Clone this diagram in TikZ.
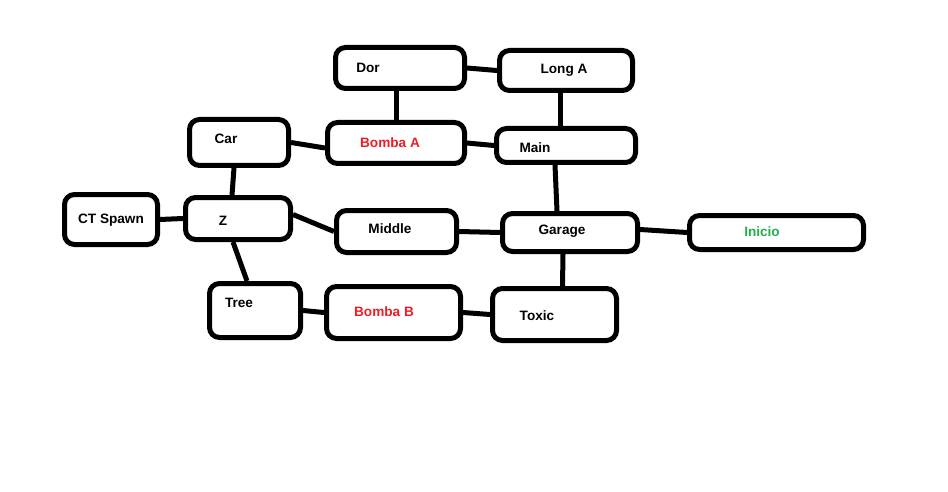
\documentclass[tikz,border=0pt]{standalone}
\usepackage{fontspec}
\setmainfont{Liberation Sans}
\usepackage{xcolor}
\usetikzlibrary{positioning}
\definecolor{rojo}{RGB}{237,28,36}
\definecolor{verde}{RGB}{34,177,76}

\begin{document}
\begin{tikzpicture}[x=1pt, y=-1pt,
    caja/.style={draw, line width=5pt, rounded corners=10pt, inner sep=0pt},
    txt/.style={font=\fontsize{13.6}{15}\selectfont\bfseries, inner sep=0pt, text height=9.8pt, text depth=0pt},
    via/.style={line width=5pt}]
	\useasboundingbox (0,0) rectangle (948,492);

	% cajas
	\node[caja, minimum width=129pt, minimum height=41pt] (dor) at (400,68) {};
	\node[caja, minimum width=133pt, minimum height=40pt] (longa) at (566,70.5) {};
	\node[caja, minimum width=99pt, minimum height=46pt] (car) at (239,142.5) {};
	\node[caja, minimum width=137pt, minimum height=41pt] (bombaa) at (396,143) {};
	\node[caja, minimum width=139pt, minimum height=34pt] (main) at (566,145.5) {};
	\node[caja, minimum width=93pt, minimum height=50pt] (ct) at (111,219.5) {};
	\node[caja, minimum width=105pt, minimum height=42pt] (z) at (238,218.5) {};
	\node[caja, minimum width=120pt, minimum height=42pt] (middle) at (396.5,231.5) {};
	\node[caja, minimum width=135pt, minimum height=38pt] (garage) at (570,232.5) {};
	\node[caja, minimum width=174pt, minimum height=34pt] (inicio) at (776.5,232.5) {};
	\node[caja, minimum width=91pt, minimum height=54pt] (tree) at (255,310.5) {};
	\node[caja, minimum width=134pt, minimum height=52pt] (bombab) at (393.5,312.5) {};
	\node[caja, minimum width=124pt, minimum height=52pt] (toxic) at (554.5,314.5) {};

	% textos
	\node[txt] (dorT) at (368,68) {Dor};
	\node[txt] (longaT) at (564,69) {Long A};
	\node[txt] (carT) at (226,139) {Car};
	\node[txt, rojo] (bombaaT) at (390,143) {Bomba A};
	\node[txt] (mainT) at (535,148) {Main};
	\node[txt] (ctT) at (111,219) {CT Spawn};
	\node[txt] (zT) at (223,221) {Z};
	\node[txt] (middleT) at (390,229) {Middle};
	\node[txt] (garageT) at (562,230) {Garage};
	\node[txt, verde] (inicioT) at (762,232) {Inicio};
	\node[txt] (treeT) at (239,303) {Tree};
	\node[txt, rojo] (bombabT) at (384,312) {Bomba B};
	\node[txt] (toxicT) at (537,316) {Toxic};

	% conexiones
	\draw[via] (dor.east) -- (longa.west);
	\draw[via] ([xshift=-4pt]dor.south) -- (bombaa.north);
	\draw[via] ([xshift=-6pt]longa.south) -- ([xshift=-6pt]main.north);
	\draw[via] (car.east) -- ([yshift=-5pt]bombaa.west);
	\draw[via] (bombaa.east) -- (main.west);
	\draw[via] ([xshift=-5pt]car.south) -- ([xshift=-6pt]z.north);
	\draw[via] ([xshift=-11pt]main.south) -- ([xshift=-13pt]garage.north);
	\draw[via] (ct.east) -- (z.west);
	\draw[via] ([yshift=4pt]z.east) -- (middle.west);
	\draw[via] (middle.east) -- (garage.west);
	\draw[via] ([yshift=3pt]garage.east) -- (inicio.west);
	\draw[via] ([xshift=-7pt]garage.south) -- ([xshift=8pt]toxic.north);
	\draw[via] ([xshift=-5pt]z.south) -- ([xshift=-8pt]tree.north);
	\draw[via] (tree.east) -- (bombab.west);
	\draw[via] (bombab.east) -- (toxic.west);
\end{tikzpicture}
\end{document}
